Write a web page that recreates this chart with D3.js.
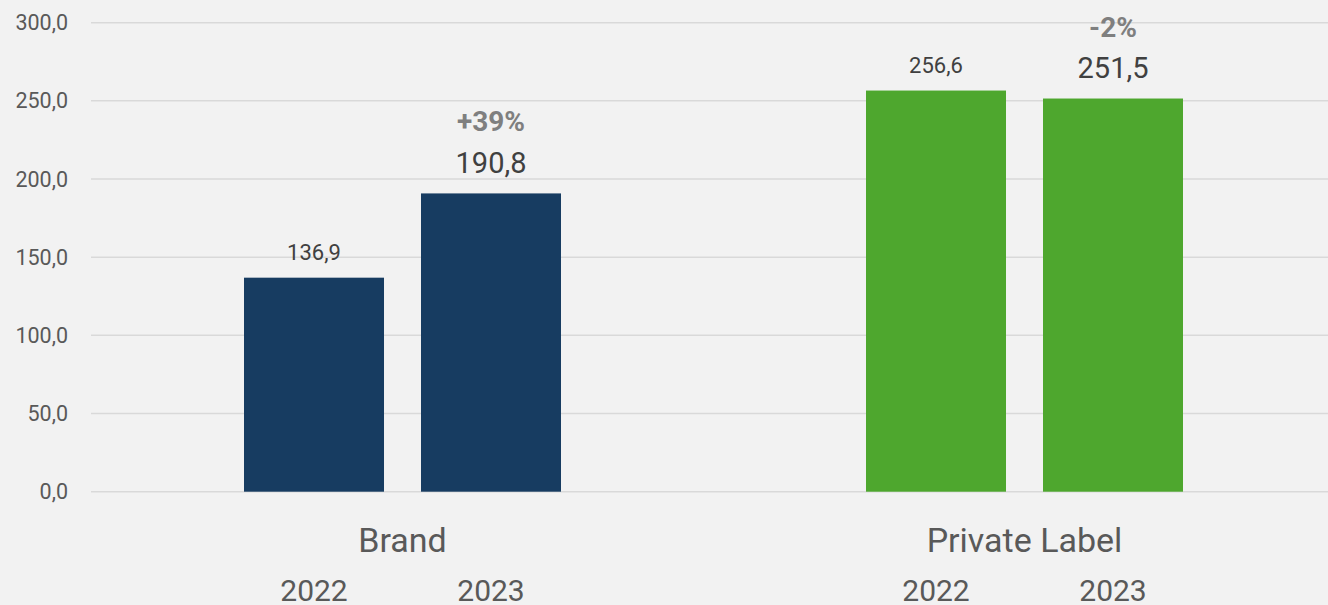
<!DOCTYPE html>
<html>
<head>
  <meta charset="utf-8">
  <script src="https://cdn.jsdelivr.net/npm/d3@7"></script>
  <style>
    body { margin: 0; background: #f2f2f2; }
    text { font-family: Roboto, "Open Sans", sans-serif; }
  </style>
</head>
<body>
<script>
  // data
  var categories = ["Brand", "Private Label"];
  var years = ["2022", "2023"];
  var brandValues = [136.9, 190.8];
  var privateValues = [256.6, 251.5];
  var changeLabels = ["+39%", "-2%"];
  var yTicks = [0, 50, 100, 150, 200, 250, 300];

  var width = 1328, height = 605;
  var fmt = function(v) { return d3.format(".1f")(v).replace(".", ","); };

  var svg = d3.select("body").append("svg")
      .attr("width", width)
      .attr("height", height);

  svg.append("rect").attr("width", width).attr("height", height).attr("fill", "#f2f2f2");

  var y = d3.scaleLinear().domain([0, 300]).range([491.7, 22.7]);
  var x0 = d3.scaleBand().domain(categories).range([91.5, 1335.5]);
  var x1 = d3.scaleBand().domain(years).range([0, x0.bandwidth()])
      .paddingInner(0.209).paddingOuter(0.8616);

  var colors = { "Brand": "#173c61", "Private Label": "#4ea72e" };

  // gridlines
  svg.append("g").selectAll("line").data(yTicks).join("line")
      .attr("x1", 91).attr("x2", width)
      .attr("y1", d => y(d)).attr("y2", d => y(d))
      .attr("stroke", "#d9d9d9").attr("stroke-width", 1.5);

  // y axis labels
  svg.append("g").selectAll("text").data(yTicks).join("text")
      .attr("x", 68).attr("y", d => y(d))
      .attr("dy", "0.35em")
      .attr("text-anchor", "end")
      .attr("fill", "#595959")
      .style("font-size", "21.5px")
      .text(d => fmt(d));

  var rows = [];
  categories.forEach(function(c, i) {
    var vals = i === 0 ? brandValues : privateValues;
    years.forEach(function(yr, j) {
      rows.push({ cat: c, year: yr, value: vals[j], idx: j, change: changeLabels[i] });
    });
  });

  var g = svg.append("g");
  g.selectAll("rect.bar").data(rows).join("rect")
      .attr("class", "bar")
      .attr("x", d => x0(d.cat) + x1(d.year))
      .attr("width", x1.bandwidth())
      .attr("y", d => y(d.value))
      .attr("height", d => y(0) - y(d.value))
      .attr("fill", d => colors[d.cat]);

  // value labels
  g.selectAll("text.val").data(rows).join("text")
      .attr("class", "val")
      .attr("x", d => x0(d.cat) + x1(d.year) + x1.bandwidth() / 2)
      .attr("y", d => y(d.value) - (d.idx === 0 ? 17.5 : 20.5))
      .attr("text-anchor", "middle")
      .attr("fill", "#404040")
      .style("font-size", d => d.idx === 0 ? "22px" : "29px")
      .text(d => fmt(d.value));

  // change labels over the 2023 bars
  g.selectAll("text.chg").data(rows.filter(d => d.idx === 1)).join("text")
      .attr("class", "chg")
      .attr("x", d => x0(d.cat) + x1(d.year) + x1.bandwidth() / 2)
      .attr("y", d => y(d.value) - 62)
      .attr("text-anchor", "middle")
      .attr("fill", "#7f7f7f")
      .style("font-size", "28px")
      .style("font-weight", "bold")
      .text(d => d.change);

  // category labels
  svg.append("g").selectAll("text").data(categories).join("text")
      .attr("x", d => x0(d) + x0.bandwidth() / 2)
      .attr("y", 552)
      .attr("text-anchor", "middle")
      .attr("fill", "#595959")
      .style("font-size", "34px")
      .text(d => d);

  // year labels
  svg.append("g").selectAll("text").data(rows).join("text")
      .attr("x", d => x0(d.cat) + x1(d.year) + x1.bandwidth() / 2)
      .attr("y", 601)
      .attr("text-anchor", "middle")
      .attr("fill", "#595959")
      .style("font-size", "30px")
      .text(d => d.year);
</script>
</body>
</html>
